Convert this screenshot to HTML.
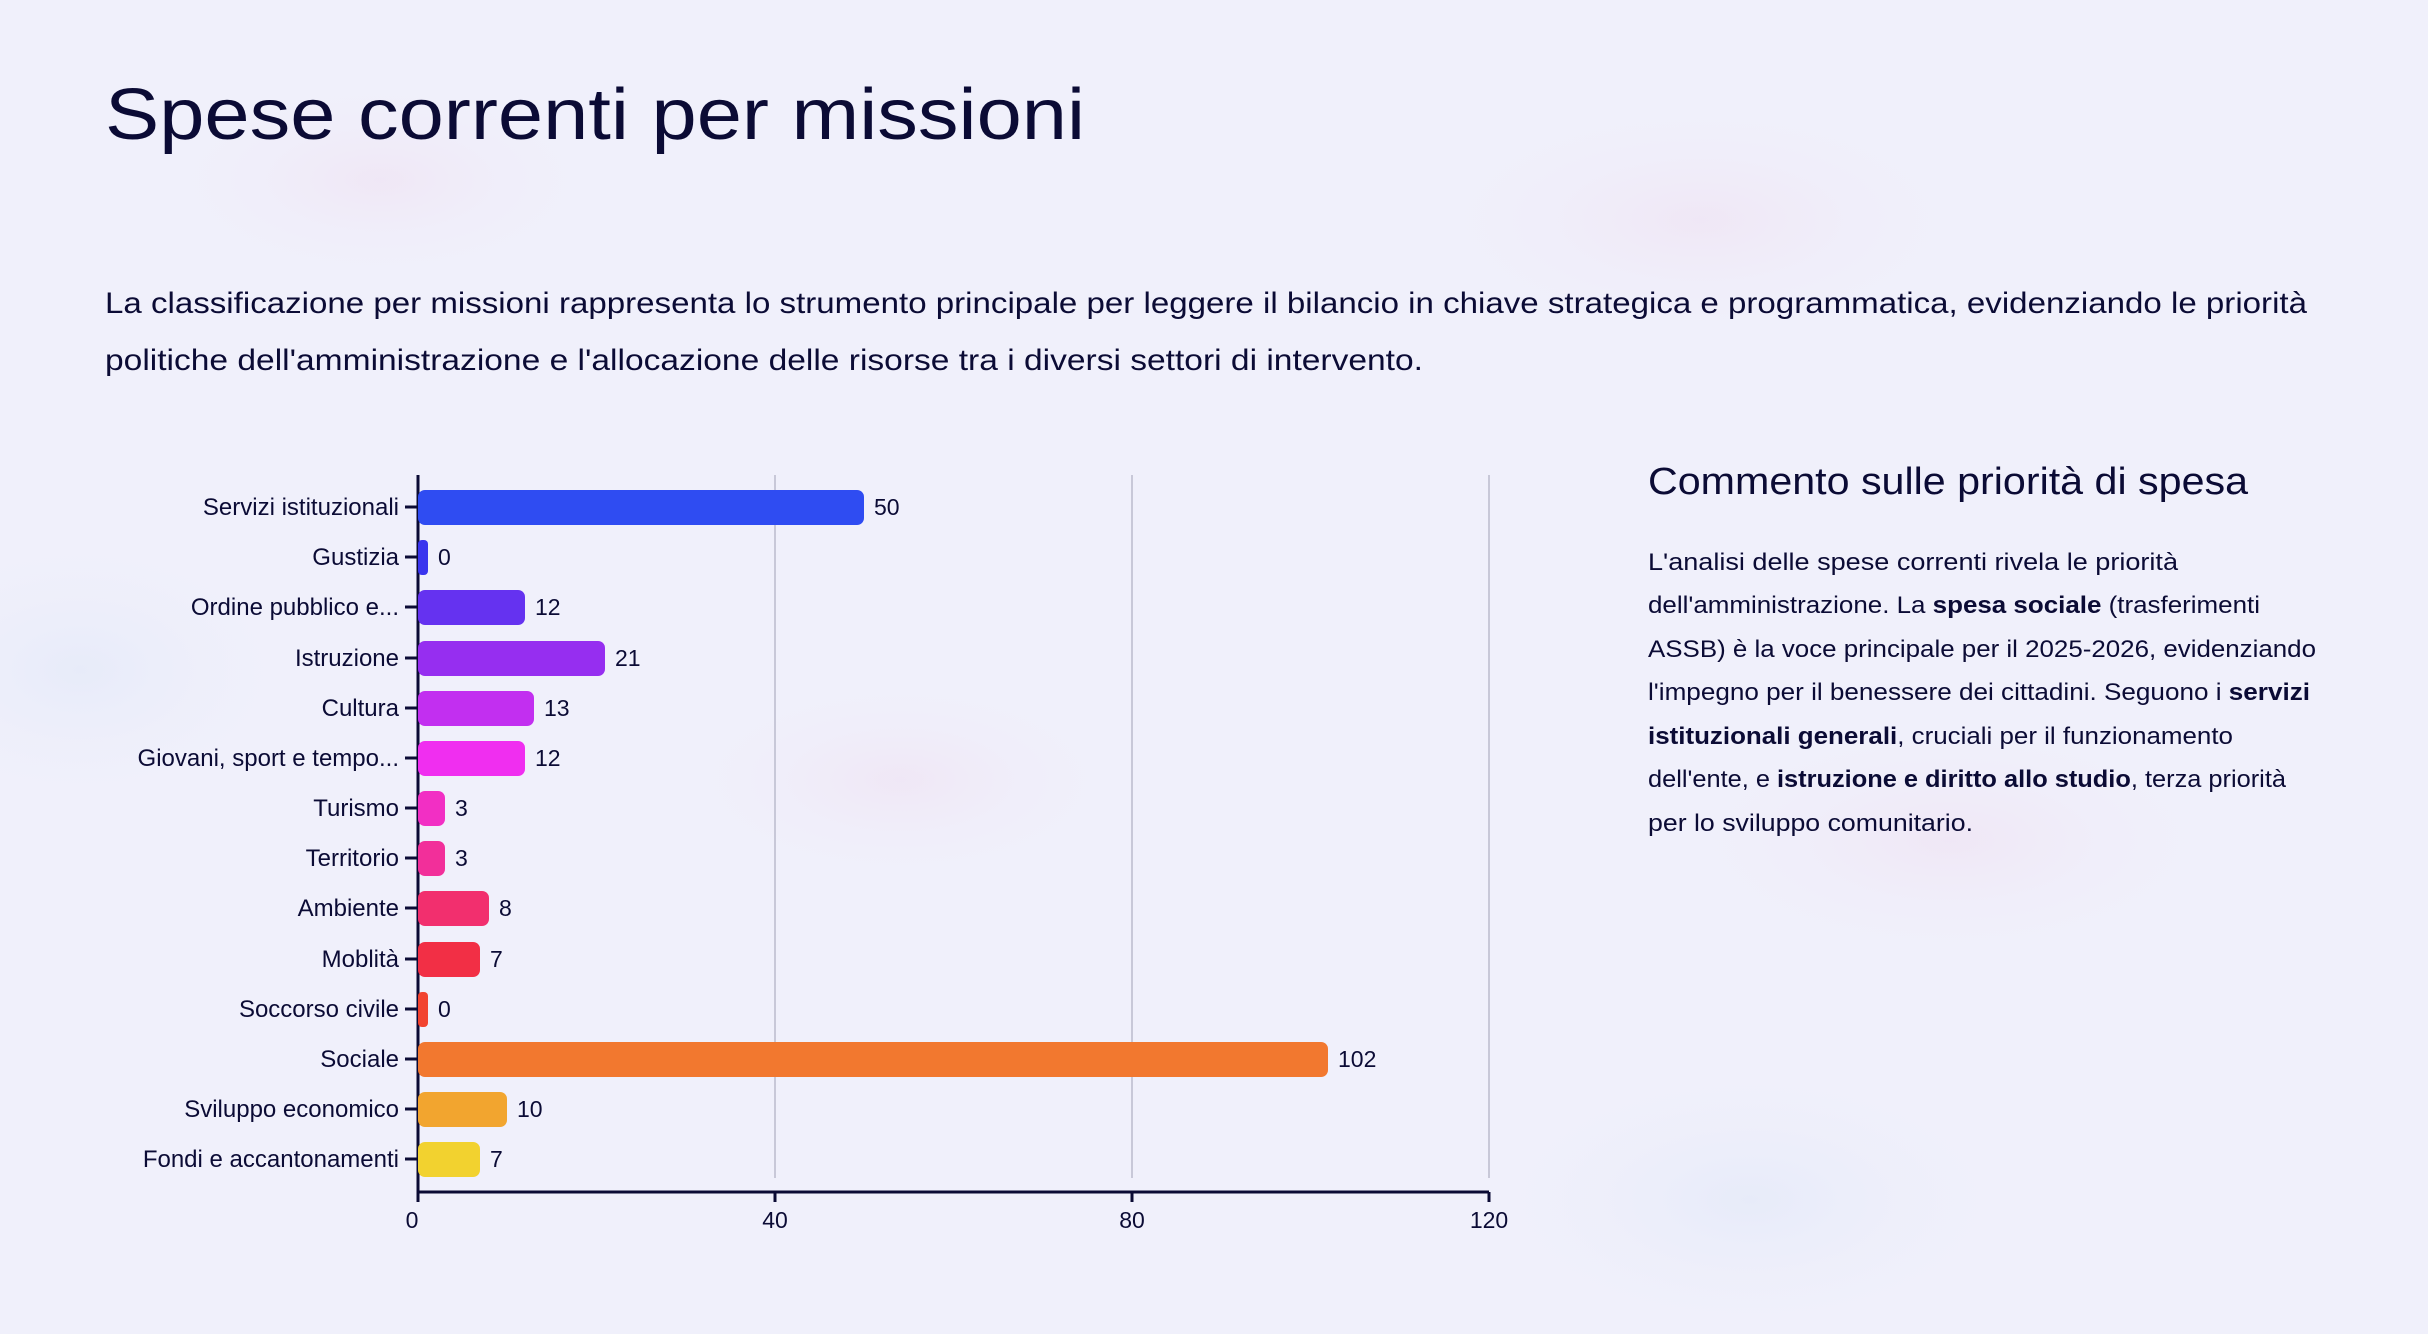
<!DOCTYPE html>
<html><head><meta charset="utf-8"><style>
html,body{margin:0;padding:0;width:2428px;height:1334px;overflow:hidden;background:#f0f0fb}
svg{display:block}
text{font-family:"Liberation Sans",sans-serif;fill:#0b0b35}
</style></head><body>
<svg width="2428" height="1334" viewBox="0 0 2428 1334" xmlns="http://www.w3.org/2000/svg">
<defs>
<radialGradient id="p" cx="50%" cy="50%" r="50%"><stop offset="0" stop-color="#efe3f3" stop-opacity="0.7"/><stop offset="1" stop-color="#f0f0fb" stop-opacity="0"/></radialGradient>
<radialGradient id="b" cx="50%" cy="50%" r="50%"><stop offset="0" stop-color="#e3e9f8" stop-opacity="0.7"/><stop offset="1" stop-color="#f0f0fb" stop-opacity="0"/></radialGradient>
</defs>
<rect width="2428" height="1334" fill="#f0f0fb"/>
<ellipse cx="380" cy="180" rx="240" ry="110" fill="url(#p)"/>
<ellipse cx="1700" cy="220" rx="300" ry="130" fill="url(#p)"/>
<ellipse cx="80" cy="670" rx="240" ry="150" fill="url(#b)"/>
<ellipse cx="1750" cy="1200" rx="300" ry="150" fill="url(#b)"/>
<ellipse cx="1950" cy="840" rx="300" ry="130" fill="url(#p)"/>
<ellipse cx="900" cy="780" rx="240" ry="110" fill="url(#p)"/>

<text x="105" y="139" font-size="72" textLength="980" lengthAdjust="spacingAndGlyphs">Spese correnti per missioni</text>
<text x="105" y="313" font-size="30" textLength="2202" lengthAdjust="spacingAndGlyphs">La classificazione per missioni rappresenta lo strumento principale per leggere il bilancio in chiave strategica e programmatica, evidenziando le priorità</text>
<text x="105" y="370" font-size="30" textLength="1318" lengthAdjust="spacingAndGlyphs">politiche dell'amministrazione e l'allocazione delle risorse tra i diversi settori di intervento.</text>

<g stroke="#c8c8d8" stroke-width="2">
<line x1="775" y1="475" x2="775" y2="1178"/>
<line x1="1132" y1="475" x2="1132" y2="1178"/>
<line x1="1489" y1="475" x2="1489" y2="1178"/>
</g>
<g stroke="#0b0b35" stroke-width="3">
<line x1="418" y1="475" x2="418" y2="1192"/>
<line x1="417" y1="1192" x2="1489" y2="1192"/>
<line x1="418" y1="1192" x2="418" y2="1202"/>
<line x1="775" y1="1192" x2="775" y2="1202"/>
<line x1="1132" y1="1192" x2="1132" y2="1202"/>
<line x1="1489" y1="1192" x2="1489" y2="1202"/>
</g>
<g font-size="23" text-anchor="middle">
<text x="412" y="1228">0</text><text x="775" y="1228">40</text><text x="1132" y="1228">80</text><text x="1489" y="1228">120</text>
</g>

<text x="1648" y="494" font-size="38" textLength="600" lengthAdjust="spacingAndGlyphs">Commento sulle priorità di spesa</text>
<g font-size="24">
<text x="1648" y="570" textLength="530" lengthAdjust="spacingAndGlyphs">L'analisi delle spese correnti rivela le priorità</text>
<text x="1648" y="613" textLength="612" lengthAdjust="spacingAndGlyphs">dell'amministrazione. La <tspan font-weight="bold">spesa sociale</tspan> (trasferimenti</text>
<text x="1648" y="657" textLength="668" lengthAdjust="spacingAndGlyphs">ASSB) è la voce principale per il 2025-2026, evidenziando</text>
<text x="1648" y="700" textLength="662" lengthAdjust="spacingAndGlyphs">l'impegno per il benessere dei cittadini. Seguono i <tspan font-weight="bold">servizi</tspan></text>
<text x="1648" y="744" textLength="585" lengthAdjust="spacingAndGlyphs"><tspan font-weight="bold">istituzionali generali</tspan>, cruciali per il funzionamento</text>
<text x="1648" y="787" textLength="638" lengthAdjust="spacingAndGlyphs">dell'ente, e <tspan font-weight="bold">istruzione e diritto allo studio</tspan>, terza priorità</text>
<text x="1648" y="831" textLength="325" lengthAdjust="spacingAndGlyphs">per lo sviluppo comunitario.</text>
</g>

<g font-size="23">
<g>
<rect x="418" y="490" width="446" height="35" rx="7" fill="#2f4cf2"/>
<rect x="418" y="540" width="10" height="35" rx="4" fill="#3a35ee"/>
<rect x="418" y="590" width="107" height="35" rx="7" fill="#6532f0"/>
<rect x="418" y="641" width="187" height="35" rx="7" fill="#962ef0"/>
<rect x="418" y="691" width="116" height="35" rx="7" fill="#c22ff0"/>
<rect x="418" y="741" width="107" height="35" rx="7" fill="#f02ef0"/>
<rect x="418" y="791" width="27" height="35" rx="7" fill="#f22fc4"/>
<rect x="418" y="841" width="27" height="35" rx="7" fill="#f22f9a"/>
<rect x="418" y="891" width="71" height="35" rx="7" fill="#f22f6e"/>
<rect x="418" y="942" width="62" height="35" rx="7" fill="#f22f45"/>
<rect x="418" y="992" width="10" height="35" rx="4" fill="#f2432f"/>
<rect x="418" y="1042" width="910" height="35" rx="7" fill="#f2782f"/>
<rect x="418" y="1092" width="89" height="35" rx="7" fill="#f2a52f"/>
<rect x="418" y="1142" width="62" height="35" rx="7" fill="#f2d22f"/>
</g>
<g stroke="#0b0b35" stroke-width="3">
<line x1="405" y1="507" x2="418" y2="507"/><line x1="405" y1="557" x2="418" y2="557"/><line x1="405" y1="607" x2="418" y2="607"/><line x1="405" y1="658" x2="418" y2="658"/><line x1="405" y1="708" x2="418" y2="708"/><line x1="405" y1="758" x2="418" y2="758"/><line x1="405" y1="808" x2="418" y2="808"/><line x1="405" y1="858" x2="418" y2="858"/><line x1="405" y1="908" x2="418" y2="908"/><line x1="405" y1="959" x2="418" y2="959"/><line x1="405" y1="1009" x2="418" y2="1009"/><line x1="405" y1="1059" x2="418" y2="1059"/><line x1="405" y1="1109" x2="418" y2="1109"/><line x1="405" y1="1159" x2="418" y2="1159"/>
</g>
<g text-anchor="end" font-size="24">
<text x="399" y="515">Servizi istituzionali</text>
<text x="399" y="565">Gustizia</text>
<text x="399" y="615">Ordine pubblico e...</text>
<text x="399" y="666">Istruzione</text>
<text x="399" y="716">Cultura</text>
<text x="399" y="766">Giovani, sport e tempo...</text>
<text x="399" y="816">Turismo</text>
<text x="399" y="866">Territorio</text>
<text x="399" y="916">Ambiente</text>
<text x="399" y="967">Moblità</text>
<text x="399" y="1017">Soccorso civile</text>
<text x="399" y="1067">Sociale</text>
<text x="399" y="1117">Sviluppo economico</text>
<text x="399" y="1167">Fondi e accantonamenti</text>
</g>
<g>
<text x="874" y="515">50</text>
<text x="438" y="565">0</text>
<text x="535" y="615">12</text>
<text x="615" y="666">21</text>
<text x="544" y="716">13</text>
<text x="535" y="766">12</text>
<text x="455" y="816">3</text>
<text x="455" y="866">3</text>
<text x="499" y="916">8</text>
<text x="490" y="967">7</text>
<text x="438" y="1017">0</text>
<text x="1338" y="1067">102</text>
<text x="517" y="1117">10</text>
<text x="490" y="1167">7</text>
</g>
</g>
</svg>
</body></html>
